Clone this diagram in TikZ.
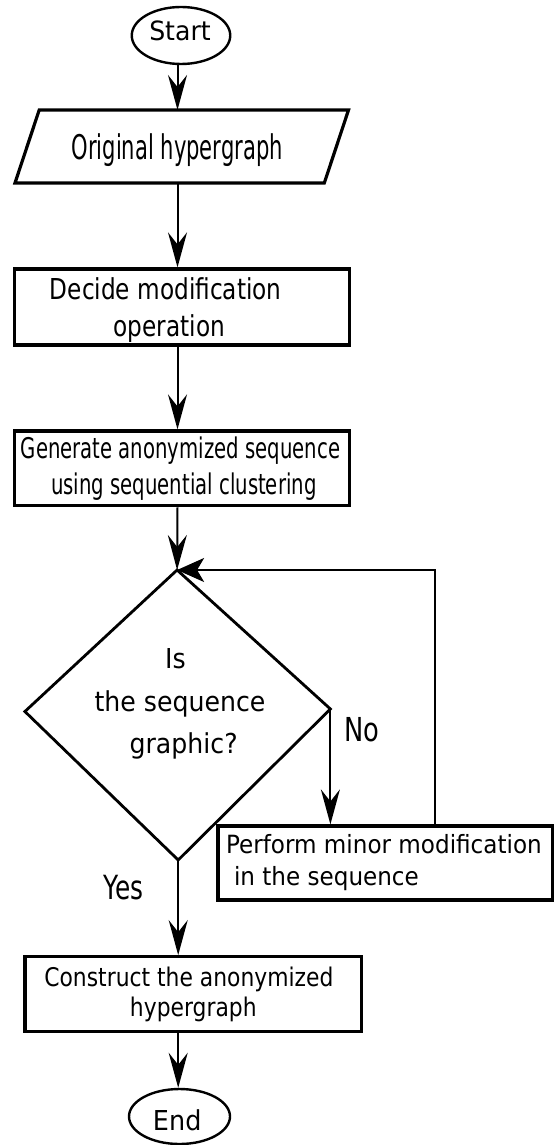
\documentclass[tikz,border=0pt]{standalone}
\usepackage{fontspec}
\setmainfont{DejaVu Sans}
\usepackage{graphicx}
\usetikzlibrary{arrows.meta,shapes.geometric,calc}

% horizontally condensed label: #1 = width factor, #2 = font size in pt, #3 = text
\newcommand{\lbl}[3]{\scalebox{#1}[1]{\fontsize{#2pt}{#2pt}\selectfont #3}}

\tikzset{
  terminal/.style={draw=black, ellipse, line width=2.4pt, inner sep=0pt},
  procbox/.style={draw=black, rectangle, line width=3.2pt, inner sep=0pt},
  area/.style={rectangle, inner sep=0pt, outer sep=0pt},
  lab/.style={inner sep=0pt, outer sep=0pt, anchor=base},
  link/.style={draw=black, line width=2pt,
    -{Stealth[length=35pt, width=19pt, inset=12pt]}},
  backlink/.style={draw=black, line width=2pt,
    -{Stealth[length=27pt, width=24pt, inset=7pt]}}
}

\begin{document}
\begin{tikzpicture}[x=1pt, y=-1pt]
  % page frame
  \fill[white] (0,0) rectangle (556,1145);
  \useasboundingbox (0,0) rectangle (556,1145);

  % columns used by the connectors
  \coordinate (colA) at (177.5,0);
  \coordinate (colB) at (178.2,0);
  \coordinate (loopx) at (434.8,0);

  % start
  \node[terminal, minimum width=98.5pt, minimum height=57pt] (start) at (181,35.5) {};

  % input: parallelogram drawn on an invisible frame
  \node[area, minimum width=333.5pt, minimum height=73pt] (orig) at (181.75,146.5) {};
  \draw[line width=3.2pt, line join=miter]
    ($(orig.north west)+(24.2,0)$) -- (orig.north east)
    -- ($(orig.south east)+(-24.2,0)$) -- (orig.south west) -- cycle;

  % process boxes
  \node[procbox, minimum width=335pt, minimum height=76pt] (decide) at (181.8,307) {};
  \node[procbox, minimum width=335pt, minimum height=74.7pt] (gen) at (181.8,468.35) {};

  % decision diamond
  \coordinate (dN) at (177.1,570);
  \coordinate (dE) at (330.4,709);
  \coordinate (dS) at (178.2,860);
  \coordinate (dW) at (24.9,711.5);
  \draw[line width=2.8pt, line join=miter] (dN) -- (dE) -- (dS) -- (dW) -- cycle;

  \node[procbox, minimum width=334.5pt, minimum height=74pt] (perf) at (385.2,863) {};
  \node[procbox, minimum width=336.7pt, minimum height=75pt] (cons) at (193.35,994.2) {};

  % end
  \node[terminal, minimum width=101pt, minimum height=55pt] (endn) at (179.5,1116.5) {};

  % connectors
  \draw[link] (start.south -| colA) -- (orig.north -| colA);
  \draw[link] (orig.south -| colA) -- (decide.north -| colA);
  \draw[link] (decide.south -| colA) -- (gen.north -| colA);
  \draw[link] (gen.south -| colA) -- (dN);
  \draw[link] (dE) -- (perf.north -| dE);
  \draw[backlink] (perf.north -| loopx) |- (dN);
  \draw[link] (dS) -- (cons.north -| colB);
  \draw[link] (cons.south -| colB) -- (endn.north -| colB);

  % texts
  \node[lab] (tStart) at (180,40.5) {\lbl{0.95}{26.5}{Start}};
  \node[lab] (tOrig) at (177.2,159) {\lbl{0.62}{34}{Original hypergraph}};
  \node[lab] (tDec1) at (165.7,299.3) {\lbl{0.805}{28.8}{Decide modification}};
  \node[lab] (tDec2) at (169.3,336) {\lbl{0.805}{28.8}{operation}};
  \node[lab] (tGen1) at (180.5,458.3) {\lbl{0.69}{28.5}{Generate anonymized sequence}};
  \node[lab] (tGen2) at (183.8,494) {\lbl{0.69}{28.5}{using sequential clustering}};
  \node[lab] (tQ1) at (175.5,668.3) {\lbl{0.92}{27.4}{Is}};
  \node[lab] (tQ2) at (180,711.7) {\lbl{0.92}{27.4}{the sequence}};
  \node[lab] (tQ3) at (183.6,753) {\lbl{0.92}{27.4}{graphic?}};
  \node[lab] (tNo) at (362,741) {\lbl{0.78}{33}{No}};
  \node[lab, anchor=base west] (tPerf1) at (226,853.3) {\lbl{0.92}{25.1}{Perform minor modification}};
  \node[lab, anchor=base west] (tPerf2) at (234,885) {\lbl{0.92}{25.1}{in the sequence}};
  \node[lab] (tYes) at (123.4,899) {\lbl{0.745}{33.3}{Yes}};
  \node[lab] (tCons1) at (188.9,986) {\lbl{0.85}{25.7}{Construct the anonymized}};
  \node[lab] (tCons2) at (193.3,1016.7) {\lbl{0.85}{25.7}{hypergraph}};
  \node[lab] (tEnd) at (177.2,1130) {\lbl{0.93}{27.4}{End}};
\end{tikzpicture}
\end{document}
